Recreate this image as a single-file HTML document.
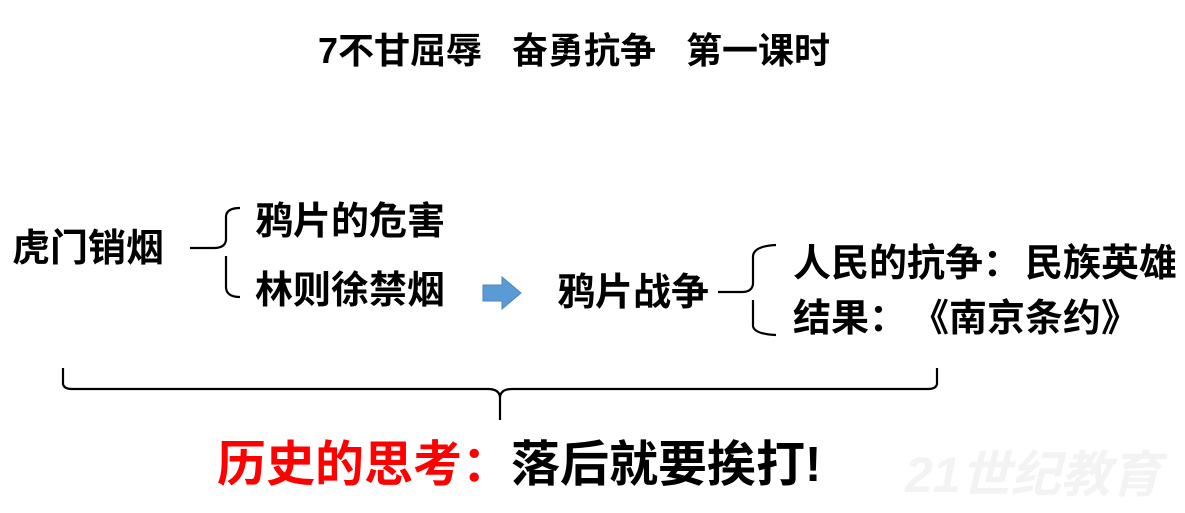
<!DOCTYPE html>
<html><head><meta charset="utf-8"><style>
body{margin:0;width:1185px;height:513px;background:#fff;overflow:hidden;position:relative;font-family:"Liberation Sans","Noto Sans CJK SC",sans-serif;font-weight:bold;color:#000}
.t{position:absolute;white-space:nowrap;line-height:1}
</style></head><body>
<svg width="1185" height="513" style="position:absolute;left:0;top:0">
<text x="905" y="492" font-family="Liberation Sans, Noto Sans CJK SC, sans-serif" font-size="50" font-weight="bold" fill="#f3f3f3" font-style="italic">21世纪教育</text>
<g fill="none" stroke="#000" stroke-width="2.2">
<path d="M190 248 H214 Q225 248 226 240 V216 Q227 208 240 208"/>
<path d="M226 256 V288 Q227 297 240 297"/>
<path d="M718 292 H742 Q752 292 753 284 V256 Q754 246 776 245"/>
<path d="M753 300 V326 Q754 334 776 335"/>
<path d="M63 368 V384 Q64 389 72 389 H488 Q499 389 500 397 V420 M500 397 Q501 389 512 389 H928 Q936 389 937 384 V368"/>
</g>
<polygon points="483,285 502,285 502,277 521,293 502,309 502,301 483,301" fill="#5b9bd5" stroke="#4a86bf" stroke-width="1"/>
</svg>
<div class="t" style="left:318px;top:33px;font-size:36px">7不甘屈辱&nbsp;&nbsp; 奋勇抗争&nbsp;&nbsp; 第一课时</div>
<div class="t" style="left:12px;top:230px;font-size:38px">虎门销烟</div>
<div class="t" style="left:255px;top:203px;font-size:38px">鸦片的危害</div>
<div class="t" style="left:255px;top:272px;font-size:38px">林则徐禁烟</div>
<div class="t" style="left:557px;top:274px;font-size:38px">鸦片战争</div>
<div class="t" style="left:793px;top:245px;font-size:38px">人民的抗争：<span style="margin-left:4px">民族英雄</span></div>
<div class="t" style="left:793px;top:300px;font-size:38px">结果：<span style="display:inline-block;margin-left:4px">《南京条约》</span></div>
<div class="t" style="left:217px;top:441px;font-size:49px"><span style="color:#ff0000">历史的思考：</span>落后就要挨打!</div>
</body></html>
